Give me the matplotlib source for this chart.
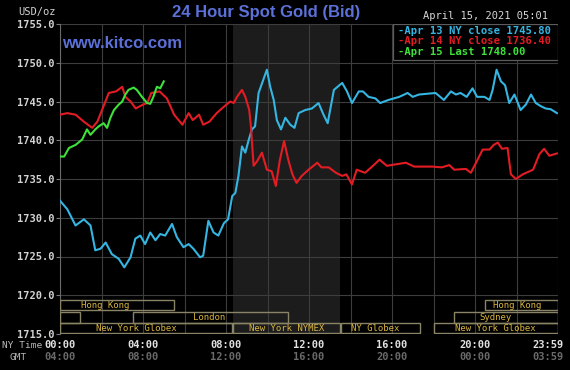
"""24 Hour Spot Gold (Bid) - kitco style chart, April 15 2021."""

import matplotlib
matplotlib.use("Agg")
import matplotlib.pyplot as plt
from matplotlib.patches import Rectangle
import numpy as np

# ---- data (hours since 00:00 NY time, USD/oz) ----
apr13_hours = [0, 0.35, 0.75, 1.15, 1.47, 1.7, 1.95, 2.2, 2.5, 2.83, 3.1, 3.4, 3.63, 3.87, 4.1, 4.35,
               4.6, 4.83, 5.07, 5.4, 5.63, 5.95, 6.2, 6.43, 6.75, 6.9, 7.15, 7.4, 7.63, 7.9, 8.1, 8.3,
               8.45, 8.6, 8.77, 8.93, 9.1, 9.25, 9.4, 9.57, 9.77, 9.97, 10.13, 10.3, 10.45, 10.65,
               10.86, 11.1, 11.3, 11.5, 11.82, 12.14, 12.46, 12.7, 12.9, 13.2, 13.6, 13.83, 14.07,
               14.4, 14.6, 14.87, 15.2, 15.43, 15.83, 16.35, 16.75, 17.0, 17.3, 18.1, 18.5, 18.84,
               19.08, 19.3, 19.6, 19.88, 20.1, 20.45, 20.7, 20.85, 21.04, 21.25, 21.45, 21.65, 21.9,
               22.2, 22.45, 22.7, 22.93, 23.17, 23.4, 23.65, 23.95]
apr13_price = [1732.2, 1731.1, 1729.0, 1729.8, 1729.0, 1725.8, 1726.0, 1726.8, 1725.3, 1724.7, 1723.6,
               1724.9, 1727.3, 1727.7, 1726.6, 1728.1, 1727.1, 1727.9, 1727.7, 1729.2, 1727.5, 1726.2,
               1726.6, 1726.0, 1724.9, 1725.1, 1729.6, 1728.1, 1727.7, 1729.3, 1729.8, 1732.8, 1733.2,
               1735.4, 1739.2, 1738.4, 1740.1, 1741.4, 1741.8, 1746.1, 1747.6, 1749.1, 1746.9, 1745.2,
               1742.6, 1741.4, 1742.9, 1742.0, 1741.6, 1743.5, 1743.9, 1744.1, 1744.8, 1743.3, 1742.2,
               1746.5, 1747.4, 1746.3, 1744.8, 1746.3, 1746.3, 1745.6, 1745.4, 1744.8, 1745.2, 1745.6,
               1746.1, 1745.6, 1745.9, 1746.1, 1745.2, 1746.3, 1745.9, 1746.1, 1745.6, 1746.7, 1745.6,
               1745.6, 1745.2, 1746.5, 1749.1, 1747.6, 1747.1, 1744.8, 1745.9, 1743.9, 1744.6, 1745.9,
               1744.8, 1744.4, 1744.1, 1744.0, 1743.5]

apr14_hours = [0, 0.35, 0.75, 1.15, 1.55, 1.8, 2.1, 2.35, 2.7, 3.0, 3.15, 3.4, 3.65, 4.0, 4.2, 4.4,
               4.8, 5.15, 5.5, 5.9, 6.2, 6.4, 6.7, 6.9, 7.2, 7.55, 7.8, 8.2, 8.37, 8.53, 8.77, 8.93,
               9.12, 9.2, 9.33, 9.5, 9.73, 9.97, 10.2, 10.4, 10.6, 10.8, 11.0, 11.2, 11.4, 11.65,
               11.98, 12.4, 12.6, 12.95, 13.3, 13.6, 13.8, 14.07, 14.3, 14.7, 15.0, 15.4, 15.75,
               16.2, 16.67, 17.07, 17.96, 18.4, 18.76, 19.0, 19.56, 19.8, 20.05, 20.37, 20.7, 20.9,
               21.1, 21.3, 21.57, 21.73, 21.97, 22.3, 22.8, 23.1, 23.33, 23.58, 23.95]
apr14_price = [1743.3, 1743.5, 1743.3, 1742.4, 1741.6, 1742.4, 1744.4, 1746.1, 1746.3, 1746.9, 1745.6,
               1745.0, 1744.1, 1744.6, 1744.8, 1746.1, 1746.3, 1745.4, 1743.3, 1742.0, 1743.5, 1742.6,
               1743.3, 1742.0, 1742.4, 1743.5, 1744.1, 1745.0, 1744.8, 1745.6, 1746.5, 1745.6, 1743.9,
               1741.8, 1736.7, 1737.3, 1738.4, 1736.2, 1736.0, 1734.1, 1737.5, 1739.9, 1737.5, 1735.6,
               1734.5, 1735.4, 1736.2, 1737.1, 1736.5, 1736.5, 1735.8, 1735.4, 1735.6, 1734.3, 1736.2,
               1735.8, 1736.5, 1737.5, 1736.7, 1736.9, 1737.1, 1736.6, 1736.6, 1736.5, 1736.8, 1736.2,
               1736.3, 1735.8, 1737.1, 1738.8, 1738.8, 1739.4, 1739.7, 1738.9, 1739.0, 1735.6, 1735.0,
               1735.6, 1736.2, 1738.2, 1738.9, 1738.0, 1738.3]

apr15_hours = [0, 0.2, 0.43, 0.75, 1.07, 1.3, 1.47, 1.7, 1.87, 2.1, 2.27, 2.43, 2.6, 2.83, 3.0, 3.15,
               3.3, 3.55, 3.7, 3.95, 4.2, 4.35, 4.5, 4.67, 4.83, 5.0]
apr15_price = [1737.9, 1737.9, 1739.0, 1739.4, 1740.1, 1741.4, 1740.7, 1741.4, 1741.8, 1742.2, 1741.6,
               1742.9, 1743.9, 1744.6, 1745.0, 1745.9, 1746.5, 1746.8, 1746.5, 1745.6, 1744.8, 1744.7,
               1745.6, 1746.9, 1746.7, 1747.6]

legend_labels = ["-Apr 13 NY close 1745.80", "-Apr 14 NY close 1736.40", "-Apr 15 Last 1748.00"]

ny_tick_hours = [0, 4, 8, 12, 16, 20, 24]
ny_tick_labels = ["00:00", "04:00", "08:00", "12:00", "16:00", "20:00", "23:59"]
gmt_tick_labels = ["04:00", "08:00", "12:00", "16:00", "20:00", "00:00", "03:59"]

# market sessions: (name, start, end, row, label position)
sessions = [
    ("Hong Kong", 0, 5.5, 0, 2.2),
    ("Hong Kong", 20.5, 24, 0, 22.05),
    ("", 0, 0.96, 1, None),
    ("London", 3.5, 11.0, 1, 7.2),
    ("Sydney", 19.0, 24, 1, 21.0),
    ("New York Globex", 0, 8.3, 2, 3.7),
    ("New York NYMEX", 8.33, 13.5, 2, 10.9),
    ("NY Globex", 13.55, 17.35, 2, 15.2),
    ("New York Globex", 18.0, 24, 2, 21.0),
]
nymex_open, nymex_close = 8.33, 13.5

# ---- figure ----
W, H = 570, 370
fig = plt.figure(figsize=(W / 100, H / 100), dpi=100, facecolor="black")


def fx(px):
    return px / W


def fy(py):
    return 1 - py / H


ax = fig.add_axes([fx(60), fy(334), (558 - 60) / W, (334 - 24) / H])
ax.set_facecolor("black")
ax.set_xlim(0, 24)
ax.set_ylim(1715, 1755)

ax.axvspan(nymex_open, nymex_close, color="#1c1c1c", zorder=0, lw=0)

ax.set_xticks(np.arange(0, 25, 2))
ax.set_yticks(np.arange(1715, 1756, 5))
ax.grid(True, color="#3d3d3d", lw=0.8, zorder=1)
ax.set_axisbelow(True)
ax.set_xticklabels([])
ax.set_yticklabels([f"{v:.1f}" for v in np.arange(1715, 1756, 5)],
                   fontfamily="DejaVu Sans Mono", fontsize=7.5, fontweight="bold", color="#d2d2d2")
ax.tick_params(axis="y", length=3, color="#7a7a7a", pad=1)
ax.tick_params(axis="x", length=0)
for side in ["top", "right", "bottom"]:
    ax.spines[side].set_visible(False)
ax.spines["left"].set_color("#6a6a6a")

ax.plot(apr13_hours, apr13_price, color="#35b6e2", lw=1.5, zorder=4)
ax.plot(apr14_hours, apr14_price, color="#e31c24", lw=1.5, zorder=4)
ax.plot(apr15_hours, apr15_price, color="#3ee23a", lw=1.5, zorder=5)

# session boxes along the bottom
trans = ax.get_xaxis_transform()
row_bounds = [(0.076, 0.110), (0.036, 0.072), (0.002, 0.034)]
for name, start, end, row, lx in sessions:
    y0, y1 = row_bounds[row]
    ax.add_patch(Rectangle((start, y0), end - start, y1 - y0, transform=trans,
                           fill=False, edgecolor="#8a8466", lw=1, zorder=3))
    if name:
        ax.text(lx, (y0 + y1) / 2, name, transform=trans, ha="center", va="center",
                fontfamily="DejaVu Sans Mono", fontsize=6.5, color="#d9b540", zorder=4)

# legend box top right
ax.add_patch(Rectangle((0.669, 0.884), 0.331, 0.116, transform=ax.transAxes,
                       facecolor="black", edgecolor="#5c5c5c", lw=0.9, zorder=6))
for lbl, col, py in zip(legend_labels, ["#35b6e2", "#e31c24", "#3ee23a"], [31, 41.5, 52]):
    fig.text(fx(398), fy(py), lbl, ha="left", va="center", color=col,
             fontfamily="DejaVu Sans Mono", fontsize=7.6, fontweight="bold", zorder=7)

# titles and annotations
fig.text(fx(266), fy(12), "24 Hour Spot Gold (Bid)", ha="center", va="center",
         color="#5b70d8", fontsize=12, fontweight="bold", fontfamily="Liberation Sans")
fig.text(fx(62), fy(44), "www.kitco.com", ha="left", va="center",
         color="#5b70d8", fontsize=12, fontweight="bold", fontfamily="Liberation Sans")
fig.text(fx(56), fy(12), "USD/oz", ha="right", va="center", color="#d2d2d2",
         fontfamily="DejaVu Sans Mono", fontsize=7.5)
fig.text(fx(423), fy(16), "April 15, 2021 05:01", ha="left", va="center", color="#d8d8d8",
         fontfamily="DejaVu Sans Mono", fontsize=7.5)

# time axis labels
fig.text(fx(2), fy(345), "NY Time", ha="left", va="center", color="#b8b8b8",
         fontfamily="DejaVu Sans Mono", fontsize=6.8)
fig.text(fx(10), fy(357), "GMT", ha="left", va="center", color="#b8b8b8",
         fontfamily="DejaVu Sans Mono", fontsize=6.8)
for i, (h, ny, gmt) in enumerate(zip(ny_tick_hours, ny_tick_labels, gmt_tick_labels)):
    last = i == len(ny_tick_hours) - 1
    ha = "right" if last else "center"
    dx = 4 if last else 0
    ax.annotate(ny, xy=(h, 0), xycoords=trans, xytext=(dx, -8), textcoords="offset points",
                ha=ha, va="center", color="#e2e2e2", fontfamily="DejaVu Sans Mono",
                fontsize=7.5, fontweight="bold", annotation_clip=False)
    ax.annotate(gmt, xy=(h, 0), xycoords=trans, xytext=(dx, -16.6), textcoords="offset points",
                ha=ha, va="center", color="#6a6a6a", fontfamily="DejaVu Sans Mono",
                fontsize=7.5, fontweight="bold", annotation_clip=False)

fig.savefig("out.png", dpi=100, facecolor="black")
